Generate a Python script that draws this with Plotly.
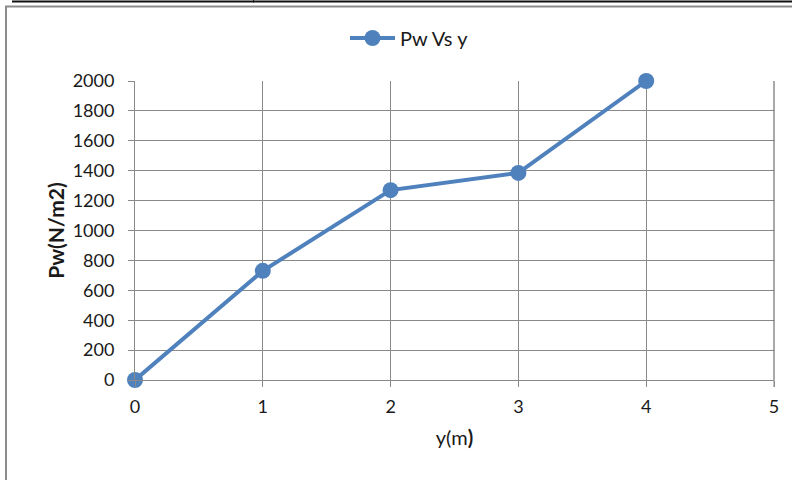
import plotly.graph_objects as go

# Depth below surface (m) and water pressure (N/m2)
depth_m = [0, 1, 2, 3, 4]
pressure = [0, 730, 1270, 1385, 2000]

x_ticks = [0, 1, 2, 3, 4, 5]
y_ticks = [0, 200, 400, 600, 800, 1000, 1200, 1400, 1600, 1800, 2000]

W, H = 792, 480
L, R, T, B = 135, 18, 81, 100
PW, PH = W - L - R, H - T - B


def px(x):
    return (x - L) / PW


def py(y):
    return (H - B - y) / PH


BLUE = "#4F81BD"
GRID = "#898989"
FONT = "Lato, 'Open Sans', sans-serif"
TEXT = "#1a1a1a"

fig = go.Figure()
fig.add_trace(go.Scatter(
    x=depth_m, y=pressure, mode="lines+markers", name="Pw Vs y",
    line=dict(color=BLUE, width=4),
    marker=dict(color=BLUE, size=16, symbol="circle", line=dict(width=0)),
    cliponaxis=False,
))

axis_common = dict(
    showgrid=True, gridcolor=GRID, gridwidth=1,
    showline=True, linecolor=GRID, linewidth=1,
    ticks="outside", ticklen=6, tickcolor=GRID,
    zeroline=False, tickfont=dict(family=FONT, size=18, color=TEXT),
)

fig.update_layout(
    width=W, height=H,
    margin=dict(l=L, r=R, t=T, b=B, pad=0),
    paper_bgcolor="white", plot_bgcolor="white",
    font=dict(family=FONT, size=18, color=TEXT),
    showlegend=True,
    legend=dict(orientation="h", x=px(345), y=py(38), xanchor="left", yanchor="middle",
                itemwidth=45,
                font=dict(family=FONT, size=20, color=TEXT),
                bgcolor="rgba(0,0,0,0)"),
    xaxis=dict(range=[0, 5], tickvals=x_ticks, ticklabelstandoff=4,
               title=dict(text="y(m<b>)</b>", font=dict(family=FONT, size=20, color=TEXT), standoff=15),
               **axis_common),
    yaxis=dict(range=[0, 2000], tickvals=y_ticks, ticklabelstandoff=10,
               title=dict(text="<b>Pw(N/m2)</b>", font=dict(family=FONT, size=21, color=TEXT), standoff=2),
               **axis_common),
)

# Right and top edges of the plot area
fig.add_shape(type="line", xref="paper", yref="paper", x0=1, x1=1, y0=0, y1=1,
              line=dict(color="#555555", width=1))
fig.add_shape(type="line", xref="paper", yref="paper", x0=1, x1=1, y0=0, y1=py(387),
              line=dict(color=GRID, width=1))

# Chart frame and the table edge above it
fig.add_shape(type="line", xref="paper", yref="paper", x0=px(6), x1=px(6), y0=py(6), y1=py(482),
              line=dict(color="#8c8c8c", width=2))
fig.add_shape(type="line", xref="paper", yref="paper", x0=px(5), x1=px(794), y0=py(6.5), y1=py(6.5),
              line=dict(color="#8c8c8c", width=2))
fig.add_shape(type="line", xref="paper", yref="paper", x0=px(12), x1=px(794), y0=py(1.5), y1=py(1.5),
              line=dict(color="#111111", width=2))
fig.add_shape(type="line", xref="paper", yref="paper", x0=px(253.5), x1=px(253.5), y0=py(0), y1=py(2.5),
              line=dict(color="#111111", width=1))

fig.write_html("out.html")
